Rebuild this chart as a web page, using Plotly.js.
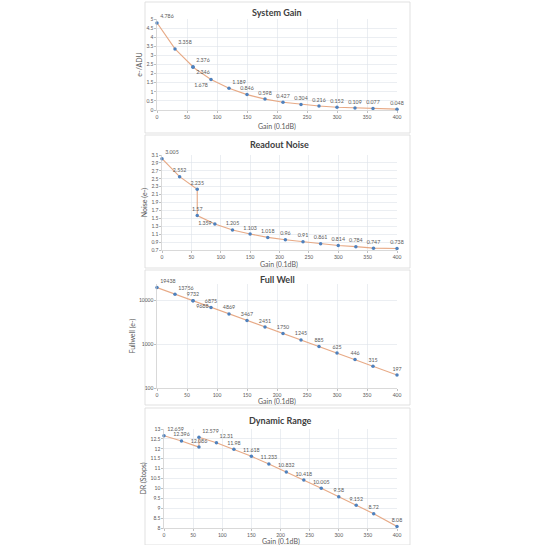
<!DOCTYPE html>
<html><head><meta charset="utf-8">
<script src="https://cdn.plot.ly/plotly-3.0.1.min.js"></script>
<style>html,body{margin:0;padding:0;background:#fff}#c{width:545px;height:545px}</style>
</head><body><div id="c"></div>
<script>
const gain = [0, 30, 60, 60, 90, 120, 150, 180, 210, 240, 270, 300, 330, 360, 400];
const sysGain = [4.786, 3.358, 2.376, 2.346, 1.678, 1.189, 0.846, 0.598, 0.427, 0.304, 0.216, 0.152, 0.109, 0.077, 0.048];
const sysGainLbl = ['4.786','3.358','2.376','2.346','1.678','1.189','0.846','0.598','0.427','0.304','0.216','0.152','0.109','0.077','0.048'];
const noise = [3.005, 2.552, 2.235, 1.57, 1.359, 1.205, 1.103, 1.018, 0.96, 0.91, 0.861, 0.814, 0.784, 0.747, 0.738];
const noiseLbl = ['3.005','2.552','2.235','1.57','1.359','1.205','1.103','1.018','0.96','0.91','0.861','0.814','0.784','0.747','0.738'];
const fullWell = [19438, 13756, 9732, 9688, 6875, 4869, 3467, 2451, 1750, 1245, 885, 625, 446, 315, 197];
const fullWellLbl = ['19438','13756','9732','9688','6875','4869','3467','2451','1750','1245','885','625','446','315','197'];
const dynRange = [12.659, 12.396, 12.086, 12.579, 12.31, 11.98, 11.618, 11.233, 10.832, 10.418, 10.005, 9.58, 9.152, 8.72, 8.08];
const dynRangeLbl = ['12.659','12.396','12.086','12.579','12.31','11.98','11.618','11.233','10.832','10.418','10.005','9.58','9.152','8.72','8.08'];
const titles = ['System Gain','Readout Noise','Full Well','Dynamic Range'];
const yTitles = ['e-/ADU','Noise (e-)','Fullwell (e-)','DR (Stops)'];

const H = 545;
const py = v => 1 - v / H;
const px = v => v / H;
const FAM = 'Lato';
const lineCol = 'rgba(228,160,120,0.9)', mkCol = '#4f81bd', gridCol = '#dde3ea', txtCol = '#595959';
const tf = {family:FAM, size:5, color:txtCol};
const lf = {family:FAM, size:5.3, color:txtCol};

const pos1 = ['top right','top right','top right','bottom right','bottom left','top right','top center','top center','top center','top center','top center','top center','top center','top center','top center'];
const pos2 = ['top right','top center','top center','top center','middle left','top center','top center','top center','top center','top center','top center','top center','top center','top center','top center'];
const pos3 = ['top right','top right','top center','bottom right','top center','top center','top center','top center','top center','top center','top center','top center','top center','top center','top center'];
const pos4 = ['top right','top center','top center','top right','top right','top center','top center','top center','top center','top center','top center','top center','top center','top center','top center'];

function tr(y, lbl, pos, ax) {
  return {x: gain, y: y, text: lbl, mode:'lines+markers+text', textposition: pos,
    textfont: lf, cliponaxis:false, xaxis:'x'+ax, yaxis:'y'+ax,
    line:{color:lineCol, width:1.1}, marker:{color:mkCol, size:3.5}, hoverinfo:'skip'};
}
const data = [
  tr(sysGain, sysGainLbl, pos1, ''),
  tr(noise, noiseLbl, pos2, '2'),
  tr(fullWell, fullWellLbl, pos3, '3'),
  tr(dynRange, dynRangeLbl, pos4, '4')
];
data[0].xaxis='x'; data[0].yaxis='y';

const plots = [[157,397,19,110],[162,397,155,250],[157,397,284,388],[164,397,429,528]];
const panels = [[145,410,2,133],[145,410,135,268],[145,410,270,405],[145,410,408,545]];
const titleY = [13,144,279,420];
const xtY = [126,264,401,541];

function xax(i){
  const p = plots[i];
  return {domain:[px(p[0]), px(p[1])], range:[0,400], dtick:50, tick0:0, showgrid:true, gridcolor:gridCol, gridwidth:0.6,
    zeroline:false, showline:true, linecolor:'#bfbfbf', linewidth:0.6, ticks:'outside', ticklen:2, tickcolor:'#bfbfbf',
    tickfont:tf, anchor: i===0?'y':'y'+(i+1), fixedrange:true};
}
function yax(i, extra){
  const p = plots[i];
  return Object.assign({domain:[py(p[3]), py(p[2])], showgrid:true, gridcolor:gridCol, gridwidth:0.6, zeroline:false,
    showline:true, linecolor:'#bfbfbf', linewidth:0.6, ticks:'outside', ticklen:2, tickcolor:'#bfbfbf',
    tickfont:tf, anchor: i===0?'x':'x'+(i+1), fixedrange:true,
    title:{text:yTitles[i], font:{family:FAM, size:7, color:txtCol}, standoff:2}}, extra);
}
const layout = {
  width:545, height:545, margin:{l:0,r:0,t:0,b:0}, showlegend:false,
  paper_bgcolor:'#fff', plot_bgcolor:'#fff', font:{family:FAM},
  xaxis:xax(0), yaxis:yax(0,{range:[0,5], dtick:0.5}),
  xaxis2:xax(1), yaxis2:yax(1,{range:[0.7,3.1], dtick:0.2, tick0:0.7}),
  xaxis3:xax(2), yaxis3:yax(2,{type:'log', range:[2, 4.37], tickvals:[100,1000,10000], ticktext:['100','1000','10000']}),
  xaxis4:xax(3), yaxis4:yax(3,{range:[8,13], dtick:0.5}),
  shapes: panels.map(p => ({type:'rect', xref:'paper', yref:'paper', x0:px(p[0]), x1:px(p[1]), y0:py(p[3]), y1:py(p[2]),
    line:{color:'#d9d9d9', width:0.8}, layer:'below'})),
  annotations: []
};
for (let i=0;i<4;i++){
  layout.annotations.push({text:'<b>'+titles[i]+'</b>', xref:'paper', yref:'paper', x:px((plots[i][0]+plots[i][1])/2), y:py(titleY[i]),
    showarrow:false, font:{family:FAM, size:9, color:'#404040'}, xanchor:'center', yanchor:'middle'});
  layout.annotations.push({text:'Gain (0.1dB)', xref:'paper', yref:'paper', x:px((plots[i][0]+plots[i][1])/2), y:py(xtY[i]),
    showarrow:false, font:{family:FAM, size:7, color:txtCol}, xanchor:'center', yanchor:'middle'});
}
Plotly.newPlot('c', data, layout, {displayModeBar:false, staticPlot:true});
</script></body></html>
